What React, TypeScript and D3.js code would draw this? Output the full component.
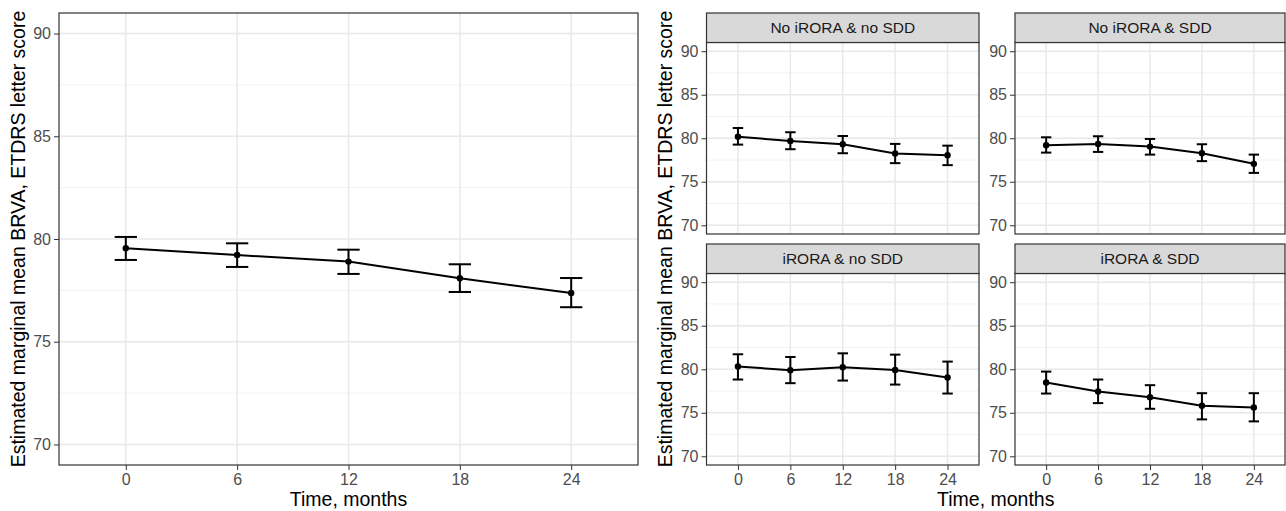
import { useEffect, useRef } from 'react';
import * as d3 from 'd3';

// Meses (eje x discreto)
const months = ['0', '6', '12', '18', '24'];

// Panel global
const overallMean = [79.55, 79.22, 78.9, 78.09, 77.37];
const overallLower = [78.98, 78.64, 78.3, 77.42, 76.68];
const overallUpper = [80.1, 79.79, 79.48, 78.77, 78.1];

// Facetas
const facetNames = ['No iRORA & no SDD', 'No iRORA & SDD', 'iRORA & no SDD', 'iRORA & SDD'];
const noIroraNoSddMean = [80.18, 79.69, 79.31, 78.24, 78.05];
const noIroraNoSddLower = [79.27, 78.74, 78.28, 77.14, 76.91];
const noIroraNoSddUpper = [81.18, 80.69, 80.26, 79.35, 79.15];
const noIroraSddMean = [79.2, 79.35, 79.04, 78.28, 77.06];
const noIroraSddLower = [78.35, 78.43, 78.12, 77.37, 76.02];
const noIroraSddUpper = [80.11, 80.23, 79.92, 79.31, 78.12];
const iroraNoSddMean = [80.31, 79.89, 80.23, 79.92, 79.05];
const iroraNoSddLower = [78.82, 78.4, 78.7, 78.24, 77.21];
const iroraNoSddUpper = [81.72, 81.41, 81.83, 81.68, 80.88];
const iroraSddMean = [78.47, 77.44, 76.79, 75.8, 75.61];
const iroraSddLower = [77.21, 76.11, 75.46, 74.24, 74.01];
const iroraSddUpper = [79.73, 78.82, 78.17, 77.25, 77.25];

const yTicks = [70, 75, 80, 85, 90];
const yMinor = [72.5, 77.5, 82.5, 87.5];

const yTitle = 'Estimated marginal mean BRVA, ETDRS letter score';
const xTitle = 'Time, months';

const W = 1286;
const H = 511;
const font = 'Liberation Sans, Arial, sans-serif';

type Serie = { mean: number[]; lower: number[]; upper: number[] };

function drawPanel(
  svg: d3.Selection<SVGSVGElement, unknown, null, undefined>,
  box: { x0: number; x1: number; y0: number; y1: number },
  serie: Serie,
  showX: boolean,
) {
  const x = d3.scalePoint<string>().domain(months).range([box.x0, box.x1]).padding(0.6);
  const y = d3.scaleLinear().domain([69, 91]).range([box.y1, box.y0]);
  const step = x.step();
  const g = svg.append('g');

  g.append('rect')
    .attr('x', box.x0).attr('y', box.y0)
    .attr('width', box.x1 - box.x0).attr('height', box.y1 - box.y0)
    .attr('fill', '#fff');

  // rejilla
  yMinor.forEach(v => {
    g.append('line')
      .attr('x1', box.x0).attr('x2', box.x1)
      .attr('y1', y(v)).attr('y2', y(v))
      .attr('stroke', '#f2f2f2').attr('stroke-width', 1);
  });
  yTicks.forEach(v => {
    g.append('line')
      .attr('x1', box.x0).attr('x2', box.x1)
      .attr('y1', y(v)).attr('y2', y(v))
      .attr('stroke', '#e8e8e8').attr('stroke-width', 1.4);
  });
  months.forEach(m => {
    g.append('line')
      .attr('x1', x(m)!).attr('x2', x(m)!)
      .attr('y1', box.y0).attr('y2', box.y1)
      .attr('stroke', '#e8e8e8').attr('stroke-width', 1.4);
  });

  // eje y
  const ay = g.append('g')
    .attr('transform', `translate(${box.x0},0)`)
    .call(d3.axisLeft(y).tickValues(yTicks).tickSize(5).tickPadding(3));
  ay.select('.domain').remove();
  ay.selectAll('.tick line').attr('stroke', '#333').attr('stroke-width', 1);
  ay.selectAll('.tick text').attr('font-family', font).attr('font-size', 16).attr('fill', '#4d4d4d');

  if (showX) {
    const ax = g.append('g')
      .attr('transform', `translate(0,${box.y1})`)
      .call(d3.axisBottom(x).tickSize(5).tickPadding(4));
    ax.select('.domain').remove();
    ax.selectAll('.tick line').attr('stroke', '#333').attr('stroke-width', 1);
    ax.selectAll('.tick text').attr('font-family', font).attr('font-size', 16).attr('fill', '#4d4d4d');
  }

  // barras de error
  const half = step * 0.1;
  months.forEach((m, i) => {
    const cx = x(m)!;
    g.append('line')
      .attr('x1', cx).attr('x2', cx)
      .attr('y1', y(serie.lower[i])).attr('y2', y(serie.upper[i]))
      .attr('stroke', '#000').attr('stroke-width', 2);
    [serie.lower[i], serie.upper[i]].forEach(v => {
      g.append('line')
        .attr('x1', cx - half).attr('x2', cx + half)
        .attr('y1', y(v)).attr('y2', y(v))
        .attr('stroke', '#000').attr('stroke-width', 2);
    });
  });

  // línea
  const line = d3.line<number>().x((_, i) => x(months[i])!).y(d => y(d));
  g.append('path')
    .attr('d', line(serie.mean))
    .attr('fill', 'none').attr('stroke', '#000').attr('stroke-width', 2);

  // puntos
  serie.mean.forEach((v, i) => {
    g.append('circle')
      .attr('cx', x(months[i])!).attr('cy', y(v)).attr('r', 3.2).attr('fill', '#000');
  });

  // borde
  g.append('rect')
    .attr('x', box.x0).attr('y', box.y0)
    .attr('width', box.x1 - box.x0).attr('height', box.y1 - box.y0)
    .attr('fill', 'none').attr('stroke', '#333').attr('stroke-width', 1.2);
}

export default function App() {
  const ref = useRef<SVGSVGElement>(null);

  useEffect(() => {
    const svg = d3.select(ref.current!);
    svg.selectAll('*').remove();
    svg.append('rect').attr('width', W).attr('height', H).attr('fill', '#fff');

    // Panel izquierdo
    drawPanel(svg, { x0: 59, x1: 638, y0: 13, y1: 465 },
      { mean: overallMean, lower: overallLower, upper: overallUpper }, true);

    svg.append('text')
      .attr('transform', `translate(25,239) rotate(-90)`)
      .attr('text-anchor', 'middle')
      .attr('font-family', font).attr('font-size', 19.5).attr('fill', '#000')
      .text(yTitle);
    svg.append('text')
      .attr('x', (59 + 638) / 2).attr('y', 506)
      .attr('text-anchor', 'middle')
      .attr('font-family', font).attr('font-size', 19.5).attr('fill', '#000')
      .text(xTitle);

    // Facetas
    const series: Serie[] = [
      { mean: noIroraNoSddMean, lower: noIroraNoSddLower, upper: noIroraNoSddUpper },
      { mean: noIroraSddMean, lower: noIroraSddLower, upper: noIroraSddUpper },
      { mean: iroraNoSddMean, lower: iroraNoSddLower, upper: iroraNoSddUpper },
      { mean: iroraSddMean, lower: iroraSddLower, upper: iroraSddUpper },
    ];
    const cols = [[706.5, 979], [1015, 1285]];
    const rows = [{ s0: 13, p0: 42.5, p1: 234 }, { s0: 244, p0: 273.5, p1: 465 }];

    facetNames.forEach((name, k) => {
      const c = cols[k % 2];
      const r = rows[Math.floor(k / 2)];
      drawPanel(svg, { x0: c[0], x1: c[1], y0: r.p0, y1: r.p1 }, series[k], k >= 2);
      svg.append('rect')
        .attr('x', c[0]).attr('y', r.s0)
        .attr('width', c[1] - c[0]).attr('height', r.p0 - r.s0)
        .attr('fill', '#d9d9d9').attr('stroke', '#333').attr('stroke-width', 1.2);
      svg.append('text')
        .attr('x', (c[0] + c[1]) / 2).attr('y', (r.s0 + r.p0) / 2)
        .attr('dy', '0.35em')
        .attr('text-anchor', 'middle')
        .attr('font-family', font).attr('font-size', 15.5).attr('fill', '#1a1a1a')
        .text(name);
    });

    svg.append('text')
      .attr('transform', `translate(672,239) rotate(-90)`)
      .attr('text-anchor', 'middle')
      .attr('font-family', font).attr('font-size', 19.5).attr('fill', '#000')
      .text(yTitle);
    svg.append('text')
      .attr('x', (706.5 + 1285) / 2).attr('y', 506)
      .attr('text-anchor', 'middle')
      .attr('font-family', font).attr('font-size', 19.5).attr('fill', '#000')
      .text(xTitle);
  }, []);

  return (
    <svg
      ref={ref}
      width={W}
      height={H}
      style={{ position: 'absolute', left: 0, top: 0, display: 'block' }}
    />
  );
}
